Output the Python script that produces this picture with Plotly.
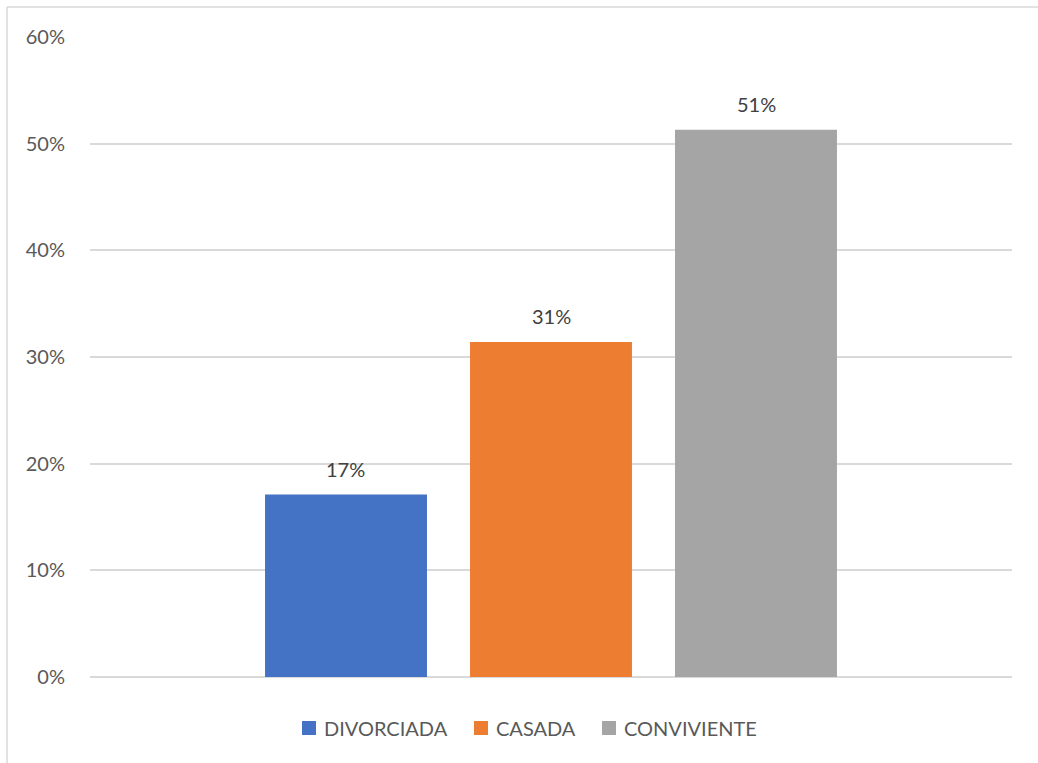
import plotly.graph_objects as go

categories = ["DIVORCIADA", "CASADA", "CONVIVIENTE"]
shares = [0.171, 0.314, 0.513]
colors = ["#4472C4", "#ED7D31", "#A5A5A5"]
y_ticks = [0, 0.1, 0.2, 0.3, 0.4, 0.5, 0.6]
y_tick_labels = ["0%", "10%", "20%", "30%", "40%", "50%", "60%"]

font_family = "Lato, 'Open Sans', sans-serif"
text_color = "#595959"

W, H = 1038, 763
L, R, T, B = 90, 26, 37, 86
PW, PH = W - L - R, H - T - B


def px_x(x):
    return (x - L) / PW


def px_y(y):
    return (H - B - y) / PH


fig = go.Figure()
for name, val, col in zip(categories, shares, colors):
    fig.add_trace(go.Bar(
        x=[""], y=[val], name=name, offsetgroup=name,
        marker=dict(color=col, line=dict(width=0)),
        showlegend=False, hoverinfo="skip",
    ))

# value labels above each bar (bar slots are 0.2225 of the plot width apart)
bar_offsets = [-1, 0, 1]
annotations = []
for name, val, k in zip(categories, shares, bar_offsets):
    annotations.append(dict(
        x=0.5 + k * 0.2225, xref="paper", y=val, yref="y",
        text=f"{val:.0%}", showarrow=False, xanchor="center", yanchor="middle",
        yshift=26, font=dict(family=font_family, size=20, color="#404040"),
    ))

# legend: colour key squares and labels
legend_x = [302, 474, 602]
shapes = []
for name, col, lx in zip(categories, colors, legend_x):
    shapes.append(dict(type="rect", xref="paper", yref="paper",
                       x0=px_x(lx), x1=px_x(lx + 14), y0=px_y(735), y1=px_y(721),
                       fillcolor=col, line=dict(width=0)))
    annotations.append(dict(
        x=px_x(lx + 20), xref="paper", y=px_y(728), yref="paper",
        text=name, showarrow=False, xanchor="left", yanchor="middle",
        font=dict(family=font_family, size=20, color=text_color),
    ))

# chart border (top and left edges)
shapes += [
    dict(type="line", xref="paper", yref="paper", x0=px_x(7), x1=px_x(W + 5),
         y0=px_y(7), y1=px_y(7), line=dict(color="#D9D9D9", width=1.5)),
    dict(type="line", xref="paper", yref="paper", x0=px_x(7), x1=px_x(7),
         y0=px_y(7), y1=px_y(H + 5), line=dict(color="#D9D9D9", width=1.5)),
]

fig.update_layout(
    width=W, height=H,
    margin=dict(l=L, r=R, t=T, b=B),
    paper_bgcolor="white", plot_bgcolor="white",
    barmode="group", bargap=0.333, bargroupgap=0.21,
    font=dict(family=font_family, size=20, color=text_color),
    showlegend=False,
    xaxis=dict(showticklabels=False, showgrid=False, zeroline=False, showline=False),
    yaxis=dict(
        range=[0, 0.6], tickvals=y_ticks, ticktext=y_tick_labels,
        showgrid=True, gridcolor="#D9D9D9", gridwidth=1.5,
        zeroline=True, zerolinecolor="#D9D9D9", zerolinewidth=1.5,
        showline=False, ticks="", ticklabelstandoff=24,
        tickfont=dict(family=font_family, size=20, color=text_color),
    ),
    shapes=shapes,
    annotations=annotations,
)

fig.write_html("out.html")
